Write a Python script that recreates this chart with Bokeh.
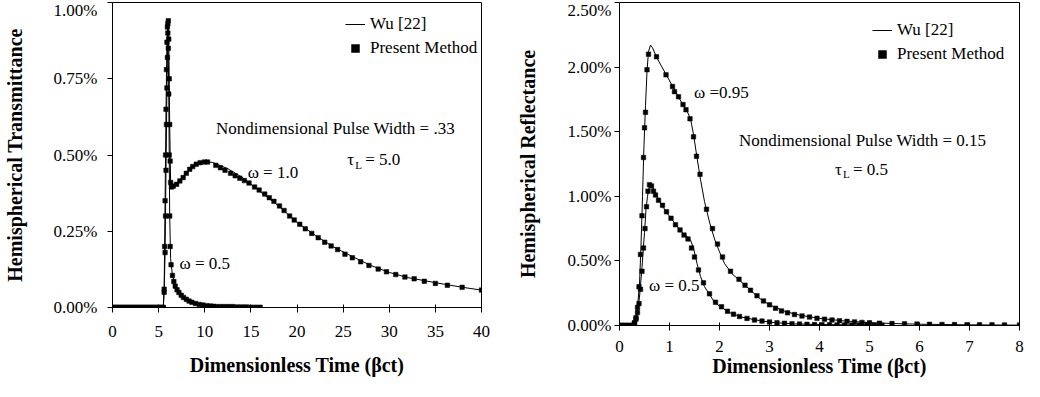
from bokeh.plotting import figure
from bokeh.layouts import row
from bokeh.models import (Range1d, FixedTicker, PrintfTickFormatter, Legend,
                          LegendItem, Label)
from bokeh.embed import file_html
from bokeh.resources import INLINE

SERIF = "Liberation Serif"

# ---------------- Data: left panel (Transmittance, tau_L = 5.0) ----------------
L_w10_line_t = [0, 5.5, 5.6, 5.7, 5.8, 5.9, 6.0, 6.05, 6.1, 6.2, 6.3, 6.4, 6.7, 7.2, 7.8,
                8.5, 9.2, 10.0, 10.8, 11.5, 12.5, 14, 16, 18, 20, 22, 24, 26, 28, 30,
                32, 34, 36, 38, 40]
L_w10_line_v = [0, 0, 0.05, 0.18, 0.45, 0.72, 0.9, 0.94, 0.88, 0.6, 0.41, 0.395, 0.40,
                0.415, 0.435, 0.455, 0.47, 0.477, 0.476, 0.468, 0.455, 0.428, 0.38,
                0.333, 0.279, 0.236, 0.198, 0.167, 0.138, 0.115, 0.098, 0.087, 0.076,
                0.066, 0.057]

L_w05_line_t = [0, 5.5, 5.6, 5.7, 5.8, 5.9, 6.0, 6.1, 6.2, 6.3, 6.5, 6.8, 7.2, 7.7, 8.3,
                9.0, 10.0, 11.0, 12.0, 14.0, 16.0]
L_w05_line_v = [0, 0, 0.06, 0.35, 0.65, 0.87, 0.93, 0.7, 0.3, 0.16, 0.105, 0.07, 0.049,
                0.033, 0.021, 0.013, 0.007, 0.004, 0.003, 0.002, 0.001]

L_w10_mk_t = [0, 0.25, 0.5, 0.75, 1.0, 1.25, 1.5, 1.75, 2.0, 2.25, 2.5, 2.75, 3.0, 3.25,
              3.5, 3.75, 4.0, 4.25, 4.5, 4.75, 5.0, 5.25,
              5.5, 5.6, 5.7, 5.75, 5.8, 5.85, 5.9, 5.95, 6.0, 6.05,
              6.1, 6.15, 6.2, 6.25, 6.3, 6.4, 6.6, 6.95, 7.3, 7.66,
              8.0, 8.37, 8.7, 9.08, 9.5, 9.97, 10.3, 11.2, 11.7, 12.2,
              12.8, 13.3, 13.8, 14.3, 14.8, 15.4, 15.9, 16.5, 17.0, 17.5,
              18.1, 18.6, 19.2, 19.7, 20.3, 20.9, 21.6, 22.3, 23.0, 23.7,
              24.4, 25.2, 26.0, 26.9, 27.8, 28.8, 29.7, 30.7, 31.7, 32.7,
              33.8, 35.0, 36.3, 37.9, 40.0]
L_w10_mk_v = [0, 0, 0, 0, 0, 0, 0, 0, 0, 0, 0, 0, 0, 0, 0, 0, 0, 0, 0, 0, 0, 0,
              0.0, 0.05, 0.18, 0.3, 0.45, 0.6, 0.72, 0.82, 0.9, 0.94,
              0.88, 0.75, 0.6, 0.48, 0.41, 0.395, 0.398, 0.404, 0.415, 0.426,
              0.44, 0.453, 0.462, 0.47, 0.475, 0.477, 0.477, 0.466, 0.458, 0.45,
              0.44, 0.432, 0.424, 0.416, 0.408, 0.395, 0.385, 0.372, 0.36, 0.348,
              0.333, 0.318, 0.30, 0.287, 0.273, 0.258, 0.243, 0.229, 0.214, 0.202,
              0.19, 0.175, 0.163, 0.150, 0.138, 0.126, 0.117, 0.108, 0.100, 0.094,
              0.086, 0.079, 0.073, 0.066, 0.057]

L_w05_mk_t = [0, 0.25, 0.5, 0.75, 1.0, 1.25, 1.5, 1.75, 2.0, 2.25, 2.5, 2.75, 3.0, 3.25,
              3.5, 3.75, 4.0, 4.25, 4.5, 4.75, 5.0, 5.25,
              5.5, 5.6, 5.65, 5.7, 5.75, 5.8, 5.85, 5.9, 5.95, 6.0,
              6.05, 6.1, 6.15, 6.2, 6.25, 6.35, 6.5, 6.65, 6.8, 7.0,
              7.2, 7.45, 7.7, 8.0, 8.3, 8.6, 9.0, 9.4, 9.8, 10.2,
              10.6, 11.0, 11.5, 12.0, 12.5, 13.0, 13.5, 14.0, 14.5, 15.0,
              15.5, 16.0]
L_w05_mk_v = [0, 0, 0, 0, 0, 0, 0, 0, 0, 0, 0, 0, 0, 0, 0, 0, 0, 0, 0, 0, 0, 0,
              0.0, 0.06, 0.2, 0.35, 0.5, 0.65, 0.78, 0.87, 0.92, 0.93,
              0.85, 0.7, 0.5, 0.3, 0.2, 0.14, 0.105, 0.085, 0.07, 0.058,
              0.049, 0.04, 0.033, 0.027, 0.021, 0.017, 0.013, 0.010, 0.008, 0.006,
              0.005, 0.004, 0.003, 0.003, 0.003, 0.003, 0.002, 0.002, 0.002, 0.001,
              0.001, 0.001]

L_xticks = [0, 5, 10, 15, 20, 25, 30, 35, 40]
L_yticks = [0.0, 0.25, 0.5, 0.75, 1.0]

# ---------------- Data: right panel (Reflectance, tau_L = 0.5) ----------------
R_w95_line_t = [0, 0.25, 0.30, 0.35, 0.40, 0.43, 0.46, 0.49, 0.52, 0.55,
                0.58, 0.62, 0.66, 0.75, 0.85, 0.95, 1.05, 1.15, 1.25, 1.35,
                1.42, 1.48, 1.55, 1.62, 1.70, 1.80, 1.90, 2.00, 2.10, 2.25,
                2.40, 2.60, 2.80, 3.00, 3.30, 3.60, 4.00, 4.50, 5.00, 5.50,
                6.00, 7.00, 8.00]
R_w95_line_v = [0, 0, 0.02, 0.10, 0.32, 0.62, 1.00, 1.40, 1.70, 1.97,
                2.12, 2.17, 2.15, 2.07, 2.00, 1.93, 1.86, 1.79, 1.72, 1.66,
                1.60, 1.48, 1.30, 1.13, 0.96, 0.80, 0.67, 0.57, 0.48, 0.40,
                0.35, 0.28, 0.21, 0.16, 0.11, 0.08, 0.055, 0.035, 0.022, 0.015,
                0.010, 0.005, 0.003]

R_w05_line_t = [0, 0.25, 0.30, 0.35, 0.40, 0.45, 0.50, 0.53, 0.56, 0.60,
                0.65, 0.75, 0.85, 0.95, 1.05, 1.15, 1.25, 1.35, 1.42, 1.48,
                1.55, 1.62, 1.70, 1.80, 1.90, 2.00, 2.20, 2.45, 2.80, 3.10,
                3.50, 4.00, 4.50, 5.00, 5.25]
R_w05_line_v = [0, 0, 0.02, 0.08, 0.22, 0.45, 0.72, 0.90, 1.00, 1.09,
                1.08, 1.00, 0.93, 0.87, 0.82, 0.77, 0.72, 0.69, 0.66, 0.60,
                0.48, 0.38, 0.30, 0.24, 0.18, 0.15, 0.10, 0.064, 0.038, 0.022,
                0.012, 0.007, 0.005, 0.003, 0.003]

R_w95_mk_t = [0, 0.05, 0.10, 0.15, 0.20, 0.25, 0.30, 0.33, 0.36, 0.39,
              0.42, 0.45, 0.48, 0.50, 0.52, 0.55, 0.58, 0.74, 0.93, 1.06,
              1.10, 1.18, 1.27, 1.33, 1.41, 1.48, 1.54, 1.61, 1.74, 1.86,
              1.96, 2.06, 2.22, 2.39, 2.51, 2.62, 2.75, 2.88, 3.00, 3.12,
              3.24, 3.36, 3.50, 3.65, 3.80, 3.95, 4.10, 4.25, 4.40, 4.55,
              4.70, 4.85, 5.00, 5.20, 5.45, 5.70, 5.95, 6.20, 6.45, 6.70,
              6.95, 7.20, 7.45, 7.70, 8.00]
R_w95_mk_v = [0, 0, 0, 0, 0, 0, 0.02, 0.06, 0.14, 0.30,
              0.55, 0.85, 1.30, 1.53, 1.65, 1.98, 2.10, 2.08, 1.94, 1.85,
              1.81, 1.77, 1.71, 1.67, 1.60, 1.46, 1.31, 1.17, 0.90, 0.75,
              0.63, 0.53, 0.42, 0.358, 0.312, 0.273, 0.23, 0.19, 0.16, 0.134,
              0.113, 0.098, 0.085, 0.074, 0.065, 0.056, 0.049, 0.043, 0.037, 0.032,
              0.028, 0.024, 0.021, 0.018, 0.015, 0.013, 0.011, 0.009, 0.008, 0.007,
              0.006, 0.005, 0.005, 0.004, 0.004]

R_w05_mk_t = [0, 0.05, 0.10, 0.15, 0.20, 0.25, 0.30, 0.33, 0.36, 0.39,
              0.42, 0.45, 0.48, 0.51, 0.54, 0.57, 0.60, 0.64, 0.68, 0.72,
              0.78, 0.86, 0.94, 1.03, 1.12, 1.21, 1.29, 1.37, 1.44, 1.50,
              1.58, 1.68, 1.80, 1.92, 2.04, 2.16, 2.28, 2.40, 2.55, 2.70,
              2.85, 3.00, 3.15, 3.30, 3.45, 3.60, 3.75, 3.90, 4.05, 4.20,
              4.35, 4.50, 4.65, 4.80, 4.95, 5.10, 5.25]
R_w05_mk_v = [0, 0, 0, 0, 0, 0, 0.02, 0.05, 0.10, 0.17,
              0.28, 0.42, 0.60, 0.75, 0.92, 1.04, 1.09, 1.08, 1.04, 1.01,
              0.97, 0.93, 0.88, 0.83, 0.78, 0.74, 0.70, 0.67, 0.60, 0.53,
              0.43, 0.33, 0.245, 0.18, 0.145, 0.11, 0.088, 0.07, 0.055, 0.043,
              0.034, 0.027, 0.021, 0.017, 0.013, 0.011, 0.009, 0.007, 0.006, 0.005,
              0.004, 0.004, 0.003, 0.003, 0.003, 0.002, 0.002]

R_xticks = [0, 1, 2, 3, 4, 5, 6, 7, 8]
R_yticks = [0.0, 0.5, 1.0, 1.5, 2.0, 2.5]

X_TITLE = "Dimensionless Time (\u03b2ct)"
L_Y_TITLE = "Hemispherical Transmittance"
R_Y_TITLE = "Hemispherical Reflectance"


def make_fig(width, height, xr, yr, xticks, yticks, xlabel, ylabel, borders,
             x_lab_standoff, x_title_standoff, y_lab_standoff, y_title_standoff):
    bl, br, bt, bb = borders
    p = figure(width=width, height=height, output_backend="svg",
               toolbar_location=None, x_range=Range1d(*xr), y_range=Range1d(*yr),
               min_border_left=bl, min_border_right=br, min_border_top=bt,
               min_border_bottom=bb, frame_align=False)
    p.xgrid.visible = False
    p.ygrid.visible = False
    p.outline_line_color = "black"
    p.outline_line_width = 1
    p.background_fill_color = "white"
    p.border_fill_color = "white"
    for ax in (p.xaxis[0], p.yaxis[0]):
        ax.axis_line_color = "black"
        ax.major_tick_line_color = "black"
        ax.minor_tick_line_color = None
        ax.major_label_text_font = SERIF
        ax.major_label_text_font_size = "17px"
        ax.major_label_text_color = "black"
        ax.axis_label_text_font = SERIF
        ax.axis_label_text_font_size = "20px"
        ax.axis_label_text_font_style = "bold"
        ax.axis_label_text_color = "black"
    p.xaxis.ticker = FixedTicker(ticks=xticks)
    p.yaxis.ticker = FixedTicker(ticks=yticks)
    p.yaxis.formatter = PrintfTickFormatter(format="%.2f%%")
    p.xaxis.major_tick_in = 3
    p.xaxis.major_tick_out = 5
    p.yaxis.major_tick_in = 0
    p.yaxis.major_tick_out = 5
    p.xaxis.major_label_standoff = x_lab_standoff
    p.xaxis.axis_label_standoff = x_title_standoff
    p.yaxis.major_label_standoff = y_lab_standoff
    p.yaxis.axis_label_standoff = y_title_standoff
    p.xaxis.axis_label = xlabel
    p.yaxis.axis_label = ylabel
    return p


def add_series(p, lt, lv, mt, mv):
    lr = p.line(lt, lv, line_color="black", line_width=1)
    mr = p.scatter(mt, mv, marker="square", size=4.5, fill_color="black",
                   line_color="black", line_width=0.5)
    return lr, mr


def add_legend(p, lr, mr, loc):
    leg = Legend(items=[LegendItem(label="Wu [22]", renderers=[lr]),
                        LegendItem(label="Present Method", renderers=[mr])],
                 location=loc, border_line_color=None, background_fill_alpha=0,
                 label_text_font=SERIF, label_text_font_size="17px",
                 label_text_color="black", glyph_width=20, glyph_height=20,
                 label_height=20, label_standoff=5, spacing=4, padding=0, margin=0)
    p.add_layout(leg)


def add_text(p, x, y, txt, size="17px", x_off=0, y_off=0):
    p.add_layout(Label(x=x, y=y, text=txt, text_font=SERIF, text_font_size=size,
                       text_color="black", text_baseline="middle", text_align="left",
                       x_offset=x_off, y_offset=y_off))


def add_tau(p, x, y, rest):
    add_text(p, x, y, "\u03c4")
    add_text(p, x, y, "L", size="11px", x_off=8, y_off=-5)
    add_text(p, x, y, rest, x_off=18)


# ---------------- Left figure ----------------
p1 = make_fig(512, 381, (0, 40), (0, 1.0), L_xticks, L_yticks, X_TITLE, L_Y_TITLE,
              (107, 31, 2, 74), x_lab_standoff=13, x_title_standoff=14,
              y_lab_standoff=10, y_title_standoff=25)
lr1, mr1 = add_series(p1, L_w10_line_t, L_w10_line_v, L_w10_mk_t, L_w10_mk_v)
add_series(p1, L_w05_line_t, L_w05_line_v, L_w05_mk_t, L_w05_mk_v)
add_legend(p1, lr1, mr1, (233, 249))
add_text(p1, 11.23, 0.587, "Nondimensional Pulse Width = .33")
add_tau(p1, 25.45, 0.485, "= 5.0")
add_text(p1, 14.65, 0.443, "\u03c9 = 1.0")
add_text(p1, 7.27, 0.144, "\u03c9 = 0.5")

# ---------------- Right figure ----------------
p2 = make_fig(512, 381, (0, 8), (0, 2.5), R_xticks, R_yticks, X_TITLE, R_Y_TITLE,
              (107, 5, 2, 56), x_lab_standoff=10, x_title_standoff=0,
              y_lab_standoff=3, y_title_standoff=26)
lr2, mr2 = add_series(p2, R_w95_line_t, R_w95_line_v, R_w95_mk_t, R_w95_mk_v)
add_series(p2, R_w05_line_t, R_w05_line_v, R_w05_mk_t, R_w05_mk_v)
add_legend(p2, lr2, mr2, (253, 261))
add_text(p2, 1.49, 1.80, "\u03c9 =0.95")
add_text(p2, 2.39, 1.43, "Nondimensional Pulse Width = 0.15")
add_tau(p2, 4.31, 1.21, "= 0.5")
add_text(p2, 0.59, 0.31, "\u03c9 = 0.5")

layout = row(p1, p2)
open("out.html", "w").write(file_html(layout, INLINE))
